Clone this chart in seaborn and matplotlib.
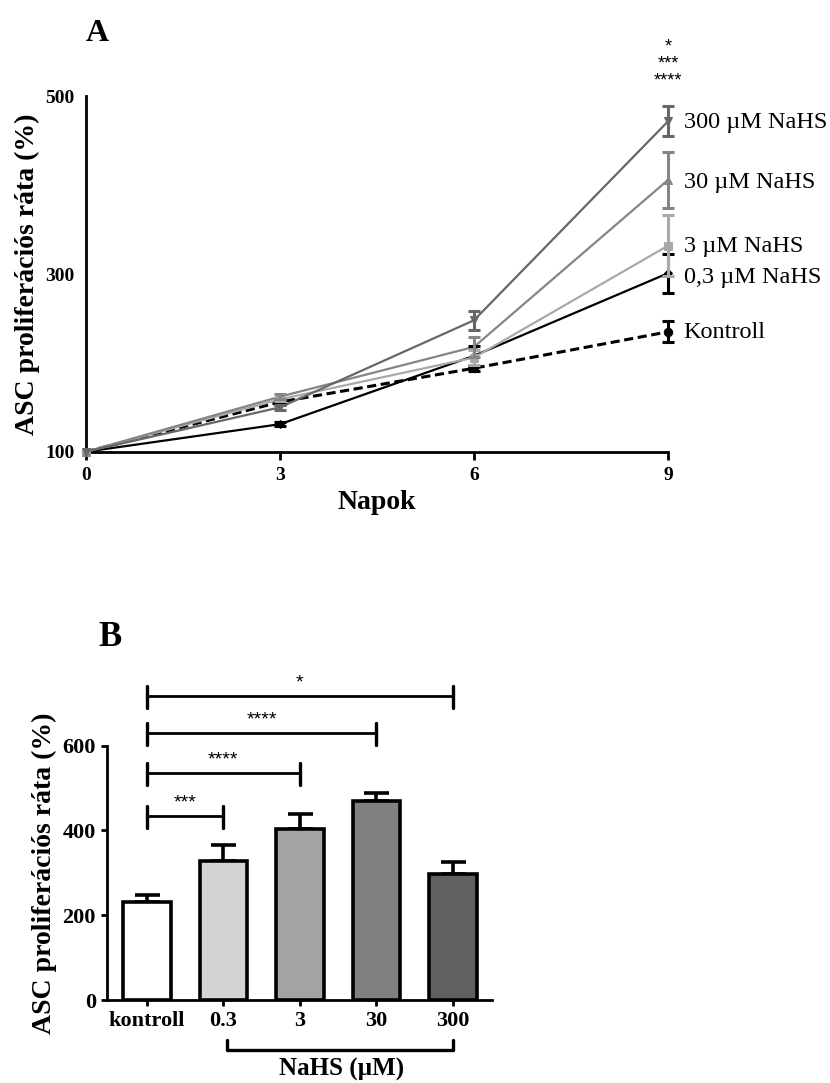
import matplotlib
matplotlib.use('Agg')
import matplotlib.pyplot as plt
import seaborn as sns
import pandas as pd

# --- panel A: proliferation over days ---
days = [0, 3, 6, 9]
kontroll = [100, 156, 194, 235]
kontroll_err = [0, 2, 3, 12]
nahs_03 = [100, 131, 208, 301]
nahs_03_err = [0, 2, 11, 22]
nahs_3 = [100, 159, 206, 332]
nahs_3_err = [0, 2, 8, 34]
nahs_30 = [100, 162, 218, 406]
nahs_30_err = [0, 3, 11, 32]
nahs_300 = [100, 150, 248, 472]
nahs_300_err = [0, 3, 11, 17]
line_labels = ['Kontroll', '0,3 \u00b5M NaHS', '3 \u00b5M NaHS', '30 \u00b5M NaHS', '300 \u00b5M NaHS']
day9_stars = ['*', '***', '****']

# --- panel B: day 9 bars ---
groups = ['kontroll', '0.3', '3', '30', '300']
bar_means = [231, 328, 403, 469, 297]
bar_err = [17, 38, 35, 20, 28]
sig_targets = [1, 2, 3, 4]
sig_heights = [433, 535, 629, 716]
sig_labels = ['***', '****', '****', '*']

sns.set_style('ticks')
plt.rcParams['font.family'] = ['Liberation Serif', 'DejaVu Serif']
plt.rcParams['axes.linewidth'] = 2.0
# seaborn greys the text and spines, the original is plain black
for key in ['text.color', 'axes.labelcolor', 'xtick.color', 'ytick.color', 'axes.edgecolor']:
    plt.rcParams[key] = 'black'
star_font = ['Liberation Sans', 'DejaVu Sans']

fig = plt.figure(figsize=(8.3, 10.83), dpi=100)

# ================= A =================
axA = fig.add_axes([0.1036, 0.5829, 0.7012, 0.3280])
series = [
    (kontroll, kontroll_err, 'black', 'o', (0, (3, 1.5)), 2.2, 6),
    (nahs_03, nahs_03_err, 'black', 'D', '-', 1.6, 4.5),
    (nahs_3, nahs_3_err, '#a9a9a9', 's', '-', 1.6, 6),
    (nahs_30, nahs_30_err, '#858585', '^', '-', 1.6, 6),
    (nahs_300, nahs_300_err, '#676767', 'v', '-', 1.6, 6),
]
for vals, errs, col, mk, ls, lw, ms in series:
    df = pd.DataFrame({'day': days, 'val': vals})
    sns.lineplot(data=df, x='day', y='val', ax=axA, color=col, marker=mk,
                 markersize=ms, markeredgecolor=col, linewidth=lw,
                 linestyle=ls, clip_on=False, zorder=3)
    axA.errorbar(days[1:], vals[1:], yerr=errs[1:], fmt='none', ecolor=col,
                 elinewidth=2.2, capsize=4, capthick=2.2, clip_on=False, zorder=4)

label_y = [234, 296, 331, 403, 471]
for lab, y in zip(line_labels, label_y):
    axA.text(9.24, y, lab, fontsize=17.5, va='center', ha='left')

for i, s in enumerate(day9_stars):
    axA.text(9, 556 - i * 19, s, fontsize=13, ha='center', va='center', family=star_font)

axA.set_xlim(0, 9)
axA.set_ylim(100, 500)
axA.set_xticks([0, 3, 6, 9])
axA.set_yticks([100, 300, 500])
axA.tick_params(axis='x', length=6, width=2, labelsize=14, pad=5)
axA.tick_params(axis='y', length=0, labelsize=14, pad=8)
for lab in axA.get_xticklabels() + axA.get_yticklabels():
    lab.set_fontweight('bold')
sns.despine(ax=axA)
axA.set_xlabel('Napok', fontsize=20, fontweight='bold', labelpad=4)
axA.set_ylabel('ASC proliferációs ráta (%)', fontsize=20, fontweight='bold', labelpad=4)
fig.text(0.117, 0.969, 'A', fontsize=23, fontweight='bold', ha='center', va='center')

# ================= B =================
axB = fig.add_axes([0.1289, 0.0766, 0.4639, 0.2349])
bar_colors = ['white', '#d4d4d4', '#a4a3a8', '#808080', '#606060']
dfB = pd.DataFrame({'group': groups, 'mean': bar_means})
sns.barplot(data=dfB, x='group', y='mean', hue='group', palette=bar_colors,
            legend=False, ax=axB, width=0.62, edgecolor='black', linewidth=2.6,
            errorbar=None, zorder=2)
axB.errorbar(range(len(groups)), bar_means, yerr=[[0] * len(bar_err), bar_err],
             fmt='none', ecolor='black', elinewidth=2.6, capsize=9, capthick=2.6, zorder=1)

for tgt, h, lab in zip(sig_targets, sig_heights, sig_labels):
    axB.plot([0, tgt], [h, h], color='black', lw=2, clip_on=False)
    for xx in (0, tgt):
        axB.plot([xx, xx], [h - 27, h + 25], color='black', lw=2.4, clip_on=False)
    axB.text(tgt / 2, h + 31, lab, fontsize=14, ha='center', va='center', family=star_font)

trB = axB.get_xaxis_transform()
axB.plot([1.05, 1.05, 4, 4], [-0.157, -0.197, -0.197, -0.157], color='black', lw=2.4,
         transform=trB, clip_on=False)
axB.text(2.55, -0.272, 'NaHS (\u00b5M)', transform=trB, fontsize=18, fontweight='bold',
         ha='center', va='center')

axB.set_xlim(-0.52, 4.51)
axB.set_ylim(0, 600)
axB.set_yticks([0, 200, 400, 600])
axB.tick_params(axis='both', length=4, width=2, labelsize=16, pad=4)
for lab in axB.get_xticklabels() + axB.get_yticklabels():
    lab.set_fontweight('bold')
sns.despine(ax=axB)
axB.set_xlabel('')
axB.set_ylabel('ASC proliferációs ráta (%)', fontsize=20, fontweight='bold', labelpad=4)
fig.text(0.133, 0.411, 'B', fontsize=25, fontweight='bold', ha='center', va='center')

fig.savefig('out.png', dpi=100)
